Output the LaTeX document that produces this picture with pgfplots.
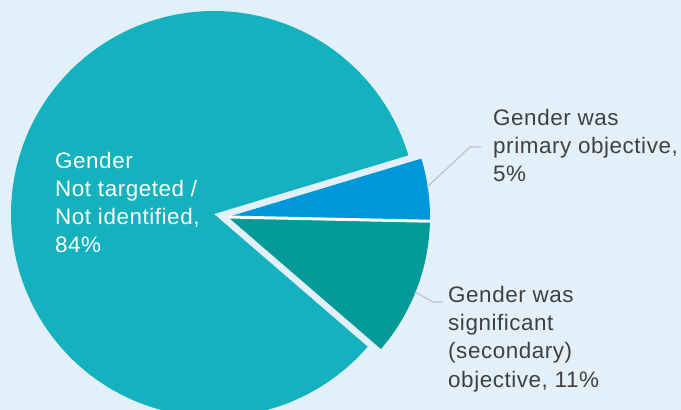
\documentclass[border=0pt]{standalone}
\usepackage{pgfplots}
\pgfplotsset{compat=1.18}
\usepackage{fontspec}
\setmainfont{Liberation Sans}
\newfontfamily\lab{Liberation Sans}[LetterSpace=2.5]
\definecolor{bg}{HTML}{E3F0FA}
\definecolor{bigc}{HTML}{14B2BF}
\definecolor{bluec}{HTML}{0097DA}
\definecolor{darkc}{HTML}{039A98}
\definecolor{txt}{HTML}{404040}
\definecolor{lead}{HTML}{BCC3C9}
% shares (percent)
\def\pNot{84}
\def\pPrim{5}
\def\pSec{11}
\def\startang{-1.2}
\begin{document}
\begin{tikzpicture}
\begin{axis}[hide axis, scale only axis, width=681bp, height=410bp,
  xmin=0, xmax=681, ymin=0, ymax=410, clip=true]
% background
\addplot[fill=bg, draw=none] coordinates {(0,0) (681,0) (681,410) (0,410)} -- cycle;
% Not targeted slice
\addplot[fill=bigc, draw=none, domain={\startang+\pPrim*3.6}:{\startang+360-\pSec*3.6}, samples=240]
  ({214+203*cos(x)},{196+203*sin(x)}) -- (axis cs:214,196) -- cycle;
% primary
\addplot[fill=bluec, draw=none, domain={\startang}:{\startang+\pPrim*3.6}, samples=40]
  ({228+202*cos(x)},{193+202*sin(x)}) -- (axis cs:228,193) -- cycle;
% secondary
\addplot[fill=darkc, draw=none, domain={\startang-\pSec*3.6}:{\startang}, samples=60]
  ({228+202*cos(x)},{193+202*sin(x)}) -- (axis cs:228,193) -- cycle;
% separator
\addplot[white, line width=3bp] coordinates {(228,193) ({228+202*cos(-1.2)},{193+202*sin(-1.2)})};
% leaders
\addplot[lead, line width=1.2bp] coordinates {(427,223) (470,263) (481,263)};
\addplot[lead, line width=1.2bp] coordinates {(415,118) (433,108) (443,108)};
% labels
\begin{scope}[every node/.style={anchor=base west, inner sep=0pt, font=\lab\fontsize{22.5}{26}\selectfont}]
\node[text=white] at (axis cs:55,242) {Gender};
\node[text=white] at (axis cs:55,214) {Not targeted /};
\node[text=white] at (axis cs:55,186) {Not identified,};
\node[text=white] at (axis cs:55,158) {84\%};
\node[text=txt] at (axis cs:493,285) {Gender was};
\node[text=txt] at (axis cs:493,257) {primary objective,};
\node[text=txt] at (axis cs:493,229) {5\%};
\node[text=txt] at (axis cs:448,108) {Gender was};
\node[text=txt] at (axis cs:448,80) {significant};
\node[text=txt] at (axis cs:448,52) {(secondary)};
\node[text=txt] at (axis cs:448,23) {objective, 11\%};
\end{scope}
\end{axis}
\end{tikzpicture}
\end{document}
